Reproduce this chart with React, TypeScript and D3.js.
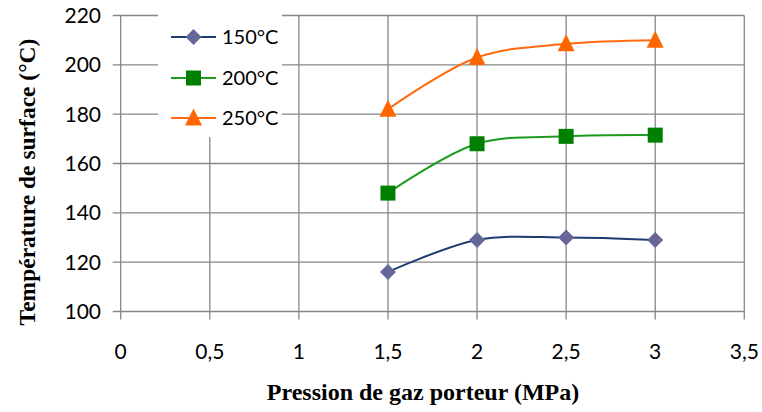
import React from "react";
import * as d3 from "d3";

const pressures = [1.5, 2, 2.5, 3];
const series150 = [116, 129, 130, 129];
const series200 = [148, 168, 171, 171.5];
const series250 = [182, 203, 208.5, 210];
const seriesNames = ["150°C", "200°C", "250°C"];
const xTicks = [0, 0.5, 1, 1.5, 2, 2.5, 3, 3.5];
const xTickLabels = ["0", "0,5", "1", "1,5", "2", "2,5", "3", "3,5"];
const yTicks = [100, 120, 140, 160, 180, 200, 220];

const W = 762, H = 412;
const left = 120.7, right = 744.3, top = 15.5, bottom = 311.5;

const x = d3.scaleLinear().domain([0, 3.5]).range([left, right]);
const y = d3.scaleLinear().domain([100, 220]).range([bottom, top]);

const styles = [
  { line: "#1F3B73", marker: "#666699", shape: "diamond" },
  { line: "#1E9A1E", marker: "#008000", shape: "square" },
  { line: "#FF6A10", marker: "#FF6600", shape: "triangle" },
];

function Marker({ cx, cy, shape, color }: { cx: number; cy: number; shape: string; color: string }) {
  if (shape === "diamond") {
    const s = 8;
    return <path d={`M${cx},${cy - s}L${cx + s},${cy}L${cx},${cy + s}L${cx - s},${cy}Z`} fill={color} />;
  }
  if (shape === "square") {
    const s = 7.5;
    return <rect x={cx - s} y={cy - s} width={2 * s} height={2 * s} fill={color} />;
  }
  const s = 8.5;
  return <path d={`M${cx},${cy - s - 1}L${cx + s},${cy + s - 1}L${cx - s},${cy + s - 1}Z`} fill={color} />;
}

export default function App() {
  const all = [series150, series200, series250];
  const line = d3
    .line<number>()
    .x((_, i) => x(pressures[i]))
    .y((d) => y(d))
    .curve(d3.curveCatmullRom.alpha(0.5));
  const tickFont = "Lato, 'Open Sans', sans-serif";
  const titleFont = "'Liberation Serif', 'DejaVu Serif', serif";
  const legendYs = [37, 78, 118];
  return (
    <svg width={W} height={H} style={{ position: "absolute", left: 0, top: 0, background: "#fff" }}>
      <rect width={W} height={H} fill="#fff" />
      {yTicks.map((t) => (
        <line key={"gy" + t} x1={left - 8} x2={right} y1={y(t)} y2={y(t)} stroke="#878787" strokeWidth={1.3} />
      ))}
      {xTicks.map((t) => (
        <line key={"gx" + t} x1={x(t)} x2={x(t)} y1={top} y2={bottom + 8} stroke="#878787" strokeWidth={1.3} />
      ))}
      {yTicks.map((t) => (
        <text key={"ty" + t} x={101} y={y(t)} dy="0.36em" textAnchor="end" fontFamily={tickFont} fontSize={21} fill="#000">
          {t}
        </text>
      ))}
      {xTicks.map((t, i) => (
        <text key={"tx" + t} x={x(t)} y={351} dy="0.36em" textAnchor="middle" fontFamily={tickFont} fontSize={21} fill="#000">
          {xTickLabels[i]}
        </text>
      ))}
      {/* legend */}
      <rect x={158} y={8} width={124} height={129} fill="#fff" />
      {seriesNames.map((n, i) => (
        <g key={n}>
          <line x1={171} x2={216} y1={legendYs[i]} y2={legendYs[i]} stroke={styles[i].line} strokeWidth={2} />
          <Marker cx={193.5} cy={legendYs[i]} shape={styles[i].shape} color={styles[i].marker} />
          <text x={222} y={legendYs[i]} dy="0.36em" fontFamily={tickFont} fontSize={20} fill="#000">
            {n}
          </text>
        </g>
      ))}
      {all.map((s, i) => (
        <g key={"s" + i}>
          <path d={line(s) || ""} fill="none" stroke={styles[i].line} strokeWidth={2} />
          {s.map((v, j) => (
            <Marker key={j} cx={x(pressures[j])} cy={y(v)} shape={styles[i].shape} color={styles[i].marker} />
          ))}
        </g>
      ))}
      <text
        transform={`translate(27,182) rotate(-90)`}
        textAnchor="middle"
        dy="0.35em"
        fontFamily={titleFont}
        fontWeight="bold"
        fontSize={23.5}
        fill="#000"
      >
        Température de surface (°C)
      </text>
      <text x={423} y={392} dy="0.35em" textAnchor="middle" fontFamily={titleFont} fontWeight="bold" fontSize={24} fill="#000">
        Pression de gaz porteur (MPa)
      </text>
    </svg>
  );
}
